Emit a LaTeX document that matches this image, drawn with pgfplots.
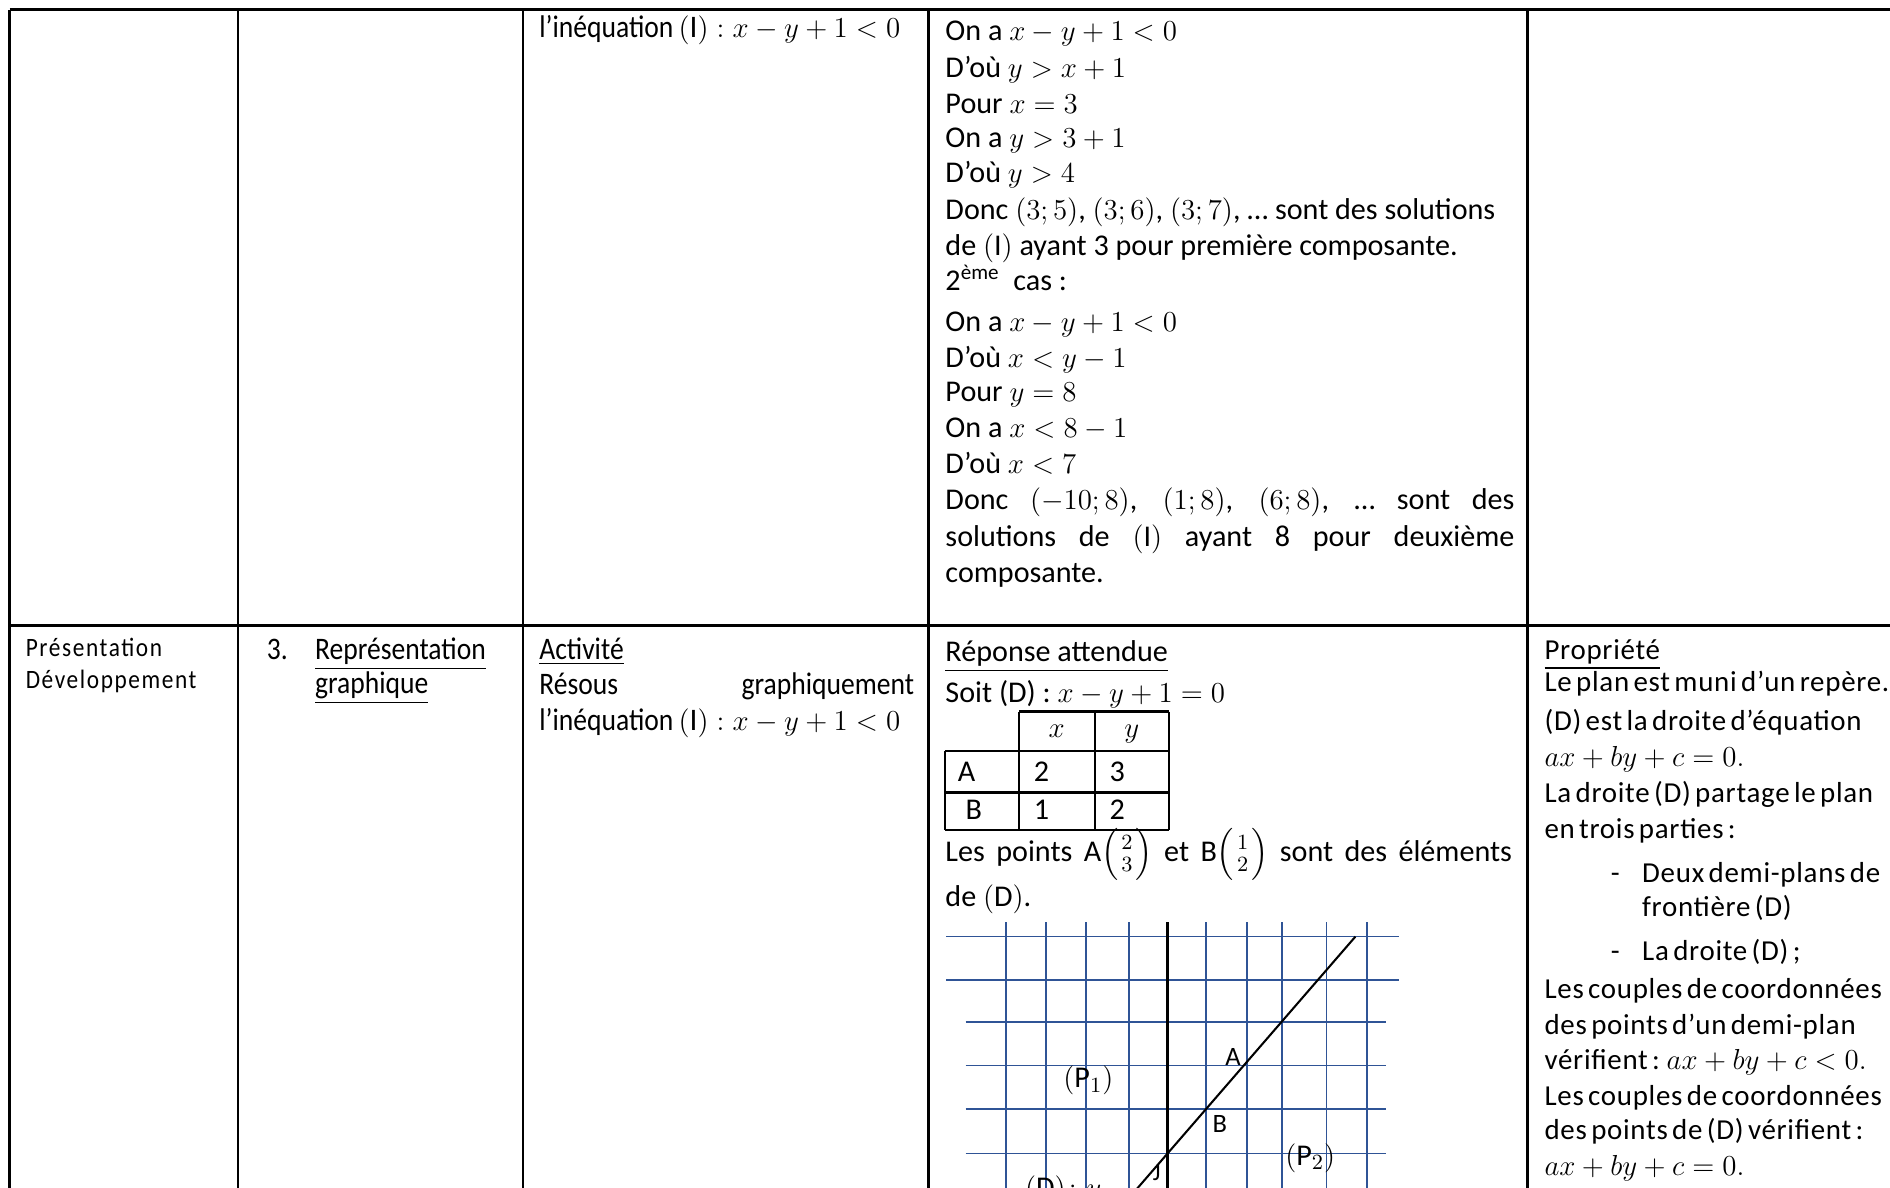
\documentclass[border=0pt]{standalone}
\usepackage{amsmath}
\usepackage{fontspec}
\setmainfont{Carlito}
\newfontfamily\cond[FakeStretch=0.88]{Carlito}
\newfontfamily\wide[LetterSpace=2.5,WordSpace=0.6]{Carlito}
\newfontfamily\side[FakeStretch=0.88,LetterSpace=6]{Carlito}
\usepackage{pgfplots}
\pgfplotsset{compat=1.18}
\definecolor{gridblue}{RGB}{47,84,150}

\tikzset{
  t/.style={anchor=base west, inner sep=0pt, font=\fontsize{12.5}{15}\selectfont},
  c/.style={anchor=base west, inner sep=0pt, font=\fontsize{13}{15}\selectfont\cond},
  w/.style={anchor=base west, inner sep=0pt, font=\fontsize{12}{14}\selectfont\wide},
  s/.style={anchor=base west, inner sep=0pt, font=\fontsize{11}{13}\selectfont\side},
  cell/.style={anchor=base, inner sep=0pt, font=\fontsize{12.5}{15}\selectfont},
}
\newcommand{\pt}[3]{\mathrm{#1}\Bigl(\genfrac{}{}{0pt}{1}{#2}{#3}\Bigr)}

\begin{document}
\begin{tikzpicture}
\begin{axis}[
    width=784pt, height=492.5pt, scale only axis,
    xmin=0, xmax=1568, ymin=0, ymax=985, y dir=reverse,
    hide axis, clip=false,
]
% table frame
\addplot[black, line width=1.4pt] coordinates {(8,8) (1575,8)};
\addplot[black, line width=1.1pt, unbounded coords=jump] coordinates {
  (8,8) (8,990) (nan,nan)
  (197.5,8) (197.5,990) (nan,nan)
  (434,8) (434,990) (nan,nan)
  (770.5,8) (770.5,990) (nan,nan)
  (1267,8) (1267,990) (nan,nan)
  (8,519) (1575,519)
};
% small table
\addplot[black, line width=1.1pt, unbounded coords=jump] coordinates {
  (845.4,590.4) (969.8,590.4) (nan,nan)
  (784,623) (969.8,623) (nan,nan)
  (784,657.6) (969.8,657.6) (nan,nan)
  (784,688.6) (969.8,688.6) (nan,nan)
  (784,623) (784,688.6) (nan,nan)
  (845.4,590.4) (845.4,688.6) (nan,nan)
  (908.4,590.4) (908.4,688.6) (nan,nan)
  (969.8,590.4) (969.8,688.6)
};
% grid
\addplot[gridblue, line width=0.7pt, unbounded coords=jump] coordinates {
  (785,777) (1161,777) (nan,nan)
  (785,813) (1161,813) (nan,nan)
  (801,848) (1150,848) (nan,nan)
  (801,884) (1150,884) (nan,nan)
  (801,920) (1150,920) (nan,nan)
  (801,957) (1150,957) (nan,nan)
  (834.6,765) (834.6,990) (nan,nan)
  (867.8,765) (867.8,990) (nan,nan)
  (901,765) (901,990) (nan,nan)
  (936.4,765) (936.4,990) (nan,nan)
  (1000.5,765) (1000.5,990) (nan,nan)
  (1034.3,765) (1034.3,990) (nan,nan)
  (1063.3,765) (1063.3,990) (nan,nan)
  (1100.6,765) (1100.6,990) (nan,nan)
  (1134.3,765) (1134.3,990)
};
\addplot[black, line width=1.5pt] coordinates {(968.7,765) (968.7,990)};
\addplot[black, line width=0.85pt] coordinates {(1124.5,777) (940,990)};

% row 1
\node[c] at (axis cs:447,31) {l’inéquation\,$(\mathrm{I}):x-y+1<0$};
\node[t] at (axis cs:784,34) {On a $x-y+1<0$};
\node[t] at (axis cs:784,64) {D’où $y>x+1$};
\node[t] at (axis cs:784,94) {Pour $x=3$};
\node[t] at (axis cs:784,122) {On a $y>3+1$};
\node[t] at (axis cs:784,151) {D’où $y>4$};
\node[t] at (axis cs:784,182) {Donc $(3;5)$, $(3;6)$, $(3;7)$, … sont des solutions};
\node[t] at (axis cs:784,212) {de $(\mathrm{I})$ ayant 3 pour première composante.};
\node[t] at (axis cs:784,241) {2\textsuperscript{ème}\ \ cas :};
\node[t] at (axis cs:784,275) {On a $x-y+1<0$};
\node[t] at (axis cs:784,305) {D’où $x<y-1$};
\node[t] at (axis cs:784,333) {Pour $y=8$};
\node[t] at (axis cs:784,363) {On a $x<8-1$};
\node[t] at (axis cs:784,393) {D’où $x<7$};
\node[t] at (axis cs:784,423) {\makebox[236pt][s]{Donc $(-10;8)$, $(1;8)$, $(6;8)$, … sont des}};
\node[t] at (axis cs:784,453) {\makebox[236pt][s]{solutions de $(\mathrm{I})$ ayant 8 pour deuxième}};
\node[t] at (axis cs:784,483) {composante.};

% row 2
\node[s] at (axis cs:21,545) {Présentation};
\node[s] at (axis cs:21,571) {Développement};
\node[c] at (axis cs:221,547) {3.};
\node[c] at (axis cs:261,547) {\underline{Représentation}};
\node[c] at (axis cs:261,575) {\underline{graphique}};
\node[c] at (axis cs:447,547) {\underline{Activité}};
\node[c] at (axis cs:447,576) {\makebox[155.5pt][s]{Résous graphiquement}};
\node[c] at (axis cs:447,606) {l’inéquation\,$(\mathrm{I}):x-y+1<0$};

\node[t] at (axis cs:784,549) {\underline{Réponse attendue}};
\node[t] at (axis cs:784,583) {Soit (D) : $x-y+1=0$};
\node[cell] at (axis cs:876.6,612) {$x$};
\node[cell] at (axis cs:939,612) {$y$};
\node[cell] at (axis cs:802,648) {A};
\node[cell] at (axis cs:864,648) {2};
\node[cell] at (axis cs:927,648) {3};
\node[cell] at (axis cs:808,680) {B};
\node[cell] at (axis cs:864,680) {1};
\node[cell] at (axis cs:927,680) {2};
\node[t] at (axis cs:784,715) {\makebox[235pt][s]{Les points $\pt{A}{2}{3}$ et $\pt{B}{1}{2}$ sont des éléments}};
\node[t] at (axis cs:784,752) {de $(\mathrm{D})$.};

\node[inner sep=0pt, font=\fontsize{11}{13}\selectfont] at (axis cs:1023,877) {A};
\node[inner sep=0pt, font=\fontsize{11}{13}\selectfont] at (axis cs:1012,932.5) {B};
\node[inner sep=0pt, font=\fontsize{12.5}{15}\selectfont] at (axis cs:903,896.5) {$(\mathrm{P}_1)$};
\node[inner sep=0pt, font=\fontsize{12.5}{15}\selectfont] at (axis cs:1087,961) {$(\mathrm{P}_2)$};
\node[inner sep=0pt, font=\fontsize{10}{12}\selectfont] at (axis cs:959.6,973.4) {J};
\node[anchor=north west, inner sep=0pt, font=\fontsize{12.5}{15}\selectfont] at (axis cs:850,975) {$(\mathrm{D})\colon y$};

\node[w] at (axis cs:1281,547) {\underline{Propriété}};
\node[w] at (axis cs:1281,574) {Le plan est muni d’un repère.};
\node[w] at (axis cs:1281,606) {(D) est la droite d’équation};
\node[w] at (axis cs:1281,636) {$ax+by+c=0.$};
\node[w] at (axis cs:1281,666) {La droite (D) partage le plan};
\node[w] at (axis cs:1281,696) {en trois parties :};
\node[w] at (axis cs:1336,732) {-};
\node[w] at (axis cs:1362,732) {Deux demi-plans de};
\node[w] at (axis cs:1362,760) {frontière (D)};
\node[w] at (axis cs:1336,797) {-};
\node[w] at (axis cs:1362,797) {La droite (D) ;};
\node[w] at (axis cs:1281,828) {Les couples de coordonnées};
\node[w] at (axis cs:1281,858) {des points d’un demi-plan};
\node[w] at (axis cs:1281,887) {vérifient : $ax+by+c<0.$};
\node[w] at (axis cs:1281,917) {Les couples de coordonnées};
\node[w] at (axis cs:1281,945) {des points de (D) vérifient :};
\node[w] at (axis cs:1281,975) {$ax+by+c=0.$};

\coordinate (ll) at (axis cs:0,985);
\coordinate (ur) at (axis cs:1568,0);
\end{axis}
\pgfresetboundingbox
\path[use as bounding box] (ll) rectangle (ur);
\end{tikzpicture}
\end{document}
